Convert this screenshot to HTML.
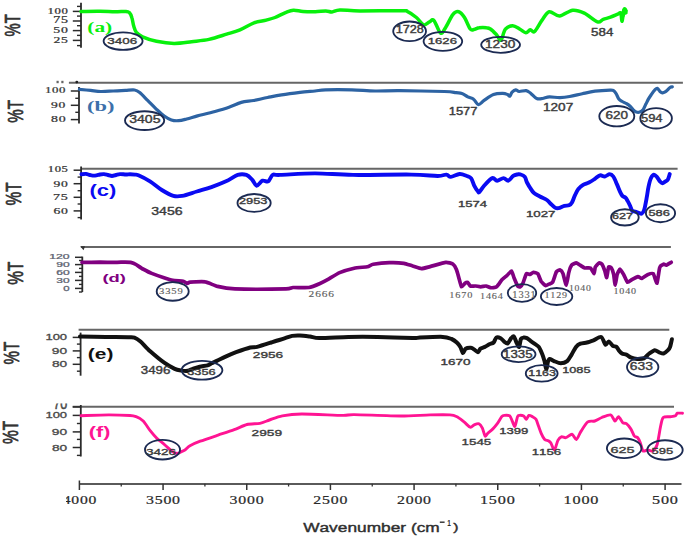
<!DOCTYPE html>
<html><head><meta charset="utf-8"><style>
html,body{margin:0;padding:0;background:#fff;}
body{width:685px;height:536px;overflow:hidden;}
svg{display:block;}
text{font-kerning:none;}
</style></head><body>
<svg width="685" height="536" viewBox="0 0 685 536">
<rect width="685" height="536" fill="#fff"/>
<text transform="translate(20.07,36.43) rotate(-90) scale(0.1485,0.2187)" font-family="'Liberation Sans', sans-serif" font-weight="normal" font-size="100.0" fill="#333" stroke="#333" stroke-width="3.269" stroke-linejoin="round">%T</text>
<line x1="81.00" y1="2.80" x2="81.00" y2="47.70" stroke="#2b2b2b" stroke-width="1.8"/>
<line x1="72.80" y1="11.40" x2="81.00" y2="11.40" stroke="#2b2b2b" stroke-width="1.5"/>
<line x1="72.80" y1="21.00" x2="81.00" y2="21.00" stroke="#2b2b2b" stroke-width="1.5"/>
<line x1="72.80" y1="30.60" x2="81.00" y2="30.60" stroke="#2b2b2b" stroke-width="1.5"/>
<line x1="72.80" y1="40.40" x2="81.00" y2="40.40" stroke="#2b2b2b" stroke-width="1.5"/>
<line x1="77.00" y1="6.40" x2="81.00" y2="6.40" stroke="#2b2b2b" stroke-width="1.4"/>
<line x1="77.00" y1="16.10" x2="81.00" y2="16.10" stroke="#2b2b2b" stroke-width="1.4"/>
<line x1="77.00" y1="25.70" x2="81.00" y2="25.70" stroke="#2b2b2b" stroke-width="1.4"/>
<line x1="77.00" y1="35.40" x2="81.00" y2="35.40" stroke="#2b2b2b" stroke-width="1.4"/>
<line x1="77.00" y1="45.60" x2="81.00" y2="45.60" stroke="#2b2b2b" stroke-width="1.4"/>
<text transform="translate(47.43,13.96) scale(0.1275,0.0889)" font-family="'Liberation Serif', serif" font-weight="normal" font-size="100.0" fill="#333" stroke="#333" stroke-width="2.772" stroke-linejoin="round" letter-spacing="5.00">100</text>
<text transform="translate(53.23,23.46) scale(0.1397,0.0933)" font-family="'Liberation Serif', serif" font-weight="normal" font-size="100.0" fill="#333" stroke="#333" stroke-width="2.575" stroke-linejoin="round" letter-spacing="5.00">75</text>
<text transform="translate(53.35,33.26) scale(0.1384,0.0919)" font-family="'Liberation Serif', serif" font-weight="normal" font-size="100.0" fill="#333" stroke="#333" stroke-width="2.606" stroke-linejoin="round" letter-spacing="5.00">50</text>
<text transform="translate(53.55,43.06) scale(0.1365,0.0923)" font-family="'Liberation Serif', serif" font-weight="normal" font-size="100.0" fill="#333" stroke="#333" stroke-width="2.623" stroke-linejoin="round" letter-spacing="5.00">25</text>
<text transform="translate(87.26,31.81) scale(0.2143,0.1544)" font-family="'Liberation Serif', serif" font-weight="bold" font-size="100.0" fill="#08f00c">(a)</text>
<path d="M81.0,11.5 C84.2,11.4 94.3,11.1 100.0,11.2 C105.7,11.2 110.7,11.8 115.0,11.8 C119.3,11.8 123.6,11.3 126.0,11.4 C128.4,11.5 128.3,11.6 129.3,12.6 C130.3,13.6 131.1,15.2 131.8,17.5 C132.6,19.8 133.0,23.8 133.8,26.3 C134.6,28.8 135.0,30.6 136.4,32.4 C137.8,34.1 139.2,35.3 142.5,36.8 C145.8,38.3 151.2,40.1 156.5,41.2 C161.8,42.3 168.2,43.3 174.0,43.4 C179.8,43.5 185.8,42.4 191.6,41.7 C197.4,41.0 203.2,40.6 209.0,39.4 C214.8,38.1 221.4,35.8 226.6,34.2 C231.8,32.6 235.4,31.7 240.0,29.8 C244.6,27.9 249.6,24.4 254.0,22.8 C258.4,21.2 262.8,21.0 266.3,20.1 C269.8,19.2 271.8,18.8 275.0,17.5 C278.2,16.2 282.4,13.8 285.5,12.6 C288.6,11.4 290.5,10.4 293.4,10.2 C296.3,10.0 299.4,11.2 303.0,11.4 C306.6,11.7 311.5,11.8 315.3,11.7 C319.1,11.6 323.0,10.9 325.8,10.9 C328.6,10.9 329.6,12.1 332.0,11.9 C334.4,11.8 335.2,10.2 339.9,10.0 C344.6,9.8 349.7,10.8 360.0,10.9 C370.3,11.0 393.9,10.7 401.8,10.8 C409.7,10.9 405.2,10.6 407.6,11.7 C410.0,12.8 413.7,15.3 416.4,17.5 C419.1,19.7 421.4,24.1 423.6,24.8 C425.8,25.5 427.8,22.6 429.5,21.9 C431.2,21.2 432.1,18.5 433.9,20.4 C435.7,22.2 438.6,31.8 440.5,33.0 C442.4,34.2 443.4,30.8 445.5,27.7 C447.6,24.6 450.6,17.3 452.8,14.6 C455.0,11.9 456.8,11.2 458.7,11.7 C460.6,12.2 462.6,14.6 464.5,17.5 C466.4,20.4 468.7,27.2 470.4,29.2 C472.1,31.1 473.2,29.4 474.7,29.2 C476.1,28.9 477.2,27.9 479.1,27.7 C481.1,27.4 484.4,27.4 486.4,27.7 C488.3,27.9 489.1,28.0 490.8,29.2 C492.5,30.4 495.0,33.2 496.7,35.0 C498.4,36.8 499.6,41.0 501.0,40.0 C502.4,39.0 503.4,31.6 505.4,29.2 C507.3,26.8 510.3,25.7 512.7,25.7 C515.1,25.7 517.8,28.0 520.0,29.2 C522.2,30.4 524.2,32.6 525.9,32.7 C527.6,32.8 528.8,30.0 530.3,29.8 C531.8,29.6 532.7,33.1 534.6,31.5 C536.5,29.9 539.5,23.7 541.9,20.4 C544.3,17.1 546.3,12.4 549.2,11.7 C552.1,11.0 555.6,16.2 559.5,16.0 C563.4,15.8 568.5,10.7 572.6,10.2 C576.7,9.7 580.2,11.2 584.3,13.1 C588.4,15.0 594.2,20.9 597.4,21.9 C600.5,22.9 601.0,20.1 603.2,19.3 C605.4,18.5 608.1,18.1 610.5,17.2 C612.9,16.3 616.1,14.9 617.8,14.2 C619.5,13.5 620.1,11.9 620.8,13.1 C621.5,14.3 621.5,21.1 621.9,21.3 C622.3,21.5 622.8,16.6 623.2,14.5 C623.6,12.4 623.9,9.4 624.4,8.8 C624.9,8.2 625.7,10.5 626.0,10.8" fill="none" stroke="#08f00c" stroke-width="3.5" stroke-linejoin="round" stroke-linecap="round"/>
<polyline points="622.5,15.5 624.5,10.0 625.5,12.5" fill="none" stroke="#08f00c" stroke-width="4.5" stroke-linejoin="round" stroke-linecap="round"/>
<ellipse cx="123.1" cy="41.1" rx="19.5" ry="8.8" fill="none" stroke="#1b2a52" stroke-width="1.85"/>
<ellipse cx="409.6" cy="31.3" rx="16.4" ry="9.8" fill="none" stroke="#1b2a52" stroke-width="1.85"/>
<ellipse cx="442.9" cy="41.3" rx="19.3" ry="9.5" fill="none" stroke="#1b2a52" stroke-width="1.85"/>
<ellipse cx="500.6" cy="44.8" rx="19.4" ry="8.0" fill="none" stroke="#1b2a52" stroke-width="1.85"/>
<text transform="translate(107.31,43.88) scale(0.1342,0.0960)" font-family="'Liberation Sans', sans-serif" font-weight="normal" font-size="100.0" fill="#3c3c3c" stroke="#3c3c3c" stroke-width="3.909" stroke-linejoin="round">3406</text>
<text transform="translate(395.76,33.38) scale(0.1266,0.1017)" font-family="'Liberation Sans', sans-serif" font-weight="normal" font-size="100.0" fill="#3c3c3c" stroke="#3c3c3c" stroke-width="3.942" stroke-linejoin="round">1728</text>
<text transform="translate(427.72,43.59) scale(0.1314,0.0890)" font-family="'Liberation Sans', sans-serif" font-weight="normal" font-size="100.0" fill="#3c3c3c" stroke="#3c3c3c" stroke-width="4.084" stroke-linejoin="round">1626</text>
<text transform="translate(484.99,47.98) scale(0.1363,0.1017)" font-family="'Liberation Sans', sans-serif" font-weight="normal" font-size="100.0" fill="#3c3c3c" stroke="#3c3c3c" stroke-width="3.782" stroke-linejoin="round">1230</text>
<text transform="translate(591.09,35.77) scale(0.1335,0.1059)" font-family="'Liberation Sans', sans-serif" font-weight="normal" font-size="100.0" fill="#3c3c3c" stroke="#3c3c3c" stroke-width="3.759" stroke-linejoin="round">584</text>
<text transform="translate(22.97,122.84) rotate(-90) scale(0.1519,0.2258)" font-family="'Liberation Sans', sans-serif" font-weight="normal" font-size="100.0" fill="#333" stroke="#333" stroke-width="3.177" stroke-linejoin="round">%T</text>
<line x1="68.90" y1="82.70" x2="682.90" y2="82.70" stroke="#666666" stroke-width="2.0"/>
<circle cx="76.8" cy="82.1" r="1.4" fill="#222"/>
<line x1="79.00" y1="87.10" x2="79.00" y2="123.50" stroke="#2b2b2b" stroke-width="1.8"/>
<line x1="70.80" y1="91.00" x2="79.00" y2="91.00" stroke="#2b2b2b" stroke-width="1.5"/>
<line x1="70.80" y1="105.30" x2="79.00" y2="105.30" stroke="#2b2b2b" stroke-width="1.5"/>
<line x1="70.80" y1="119.60" x2="79.00" y2="119.60" stroke="#2b2b2b" stroke-width="1.5"/>
<line x1="75.30" y1="98.30" x2="79.00" y2="98.30" stroke="#2b2b2b" stroke-width="1.4"/>
<line x1="75.30" y1="112.30" x2="79.00" y2="112.30" stroke="#2b2b2b" stroke-width="1.4"/>
<text transform="translate(45.02,93.47) scale(0.1282,0.0860)" font-family="'Liberation Serif', serif" font-weight="normal" font-size="100.0" fill="#333" stroke="#333" stroke-width="2.801" stroke-linejoin="round" letter-spacing="5.00">100</text>
<text transform="translate(51.11,108.17) scale(0.1358,0.0860)" font-family="'Liberation Serif', serif" font-weight="normal" font-size="100.0" fill="#333" stroke="#333" stroke-width="2.706" stroke-linejoin="round" letter-spacing="5.00">90</text>
<text transform="translate(51.02,122.47) scale(0.1386,0.0860)" font-family="'Liberation Serif', serif" font-weight="normal" font-size="100.0" fill="#333" stroke="#333" stroke-width="2.672" stroke-linejoin="round" letter-spacing="5.00">80</text>
<rect x="56.5" y="80.8" width="2.2" height="2.4" fill="#666"/>
<rect x="61.3" y="80.8" width="2.2" height="2.4" fill="#666"/>
<text transform="translate(87.11,111.41) scale(0.2248,0.1500)" font-family="'Liberation Serif', serif" font-weight="bold" font-size="100.0" fill="#3c70aa">(b)</text>
<path d="M79.4,89.4 C81.3,89.6 87.1,90.1 90.7,90.4 C94.3,90.8 97.2,91.4 100.9,91.5 C104.6,91.6 109.0,91.2 113.1,91.0 C117.2,90.8 121.8,90.6 125.4,90.4 C129.0,90.2 132.2,89.7 134.6,90.0 C137.0,90.3 137.5,90.7 139.7,92.5 C141.9,94.3 145.2,98.0 147.9,100.7 C150.6,103.4 153.3,106.2 156.0,108.8 C158.7,111.3 161.6,114.1 164.2,116.0 C166.8,117.9 169.0,119.2 171.4,120.0 C173.8,120.8 175.9,120.9 178.5,120.7 C181.1,120.5 183.5,119.8 186.7,119.0 C189.9,118.2 192.8,117.2 197.5,115.9 C202.2,114.7 209.8,113.0 215.0,111.5 C220.2,110.0 224.6,108.7 229.0,107.2 C233.4,105.7 237.2,103.5 241.3,102.4 C245.4,101.3 249.2,101.3 253.6,100.5 C258.0,99.7 262.9,98.4 267.6,97.5 C272.3,96.6 276.2,95.8 281.6,94.9 C287.0,94.0 294.4,93.0 300.0,92.3 C305.6,91.6 310.8,91.4 315.0,91.0 C319.2,90.6 319.4,90.1 325.5,89.9 C331.6,89.7 343.5,89.7 351.8,89.9 C360.1,90.1 367.2,90.9 375.2,91.0 C383.2,91.1 388.5,90.6 400.0,90.7 C411.5,90.8 435.0,91.2 444.4,91.5 C453.8,91.8 453.2,92.4 456.1,92.7 C459.0,93.0 459.9,92.7 461.9,93.4 C463.8,94.1 465.9,95.9 467.8,96.9 C469.8,97.9 471.9,97.9 473.6,99.2 C475.4,100.5 476.6,104.4 478.3,104.6 C480.1,104.8 481.6,102.1 484.1,100.4 C486.6,98.7 490.4,95.7 493.5,94.5 C496.6,93.3 500.5,93.4 502.8,93.4 C505.1,93.4 506.3,94.0 507.5,94.5 C508.7,95.0 509.0,96.6 509.8,96.2 C510.6,95.8 511.1,93.2 512.1,92.2 C513.1,91.2 514.5,90.0 515.7,89.9 C516.9,89.8 517.5,91.4 519.2,91.5 C521.0,91.6 524.3,90.3 526.2,90.6 C528.1,90.9 529.0,92.1 530.8,93.4 C532.5,94.7 534.8,97.7 536.7,98.5 C538.7,99.3 540.4,98.8 542.5,98.5 C544.6,98.2 546.6,97.1 549.5,96.9 C552.4,96.8 556.6,97.7 560.0,97.6 C563.4,97.5 565.9,97.2 569.6,96.5 C573.3,95.8 578.1,94.6 582.3,93.7 C586.5,92.8 590.4,91.8 595.0,91.2 C599.6,90.6 606.9,90.2 610.0,90.1 C613.1,90.0 612.5,90.0 613.5,90.6 C614.5,91.2 615.2,92.2 616.1,93.6 C617.0,95.0 617.8,97.6 618.8,98.9 C619.8,100.2 621.0,100.7 622.3,101.5 C623.6,102.3 625.3,102.9 626.6,103.7 C627.9,104.5 628.9,105.2 630.1,106.3 C631.3,107.4 632.6,109.3 633.6,110.3 C634.6,111.2 635.3,111.7 636.3,112.0 C637.3,112.3 638.6,112.4 639.8,112.0 C641.0,111.6 642.3,110.7 643.3,109.4 C644.3,108.1 645.0,105.8 645.9,104.1 C646.8,102.3 647.5,100.7 648.5,98.9 C649.5,97.2 651.0,95.1 652.0,93.6 C653.0,92.1 653.8,91.0 654.7,90.1 C655.6,89.2 656.4,88.2 657.3,88.4 C658.2,88.6 659.0,90.7 659.9,91.4 C660.8,92.1 661.6,92.7 662.5,92.8 C663.4,92.9 664.5,92.3 665.2,91.9 C665.9,91.5 666.1,91.3 666.9,90.6 C667.7,89.9 669.1,88.1 670.0,87.5 C670.9,86.9 671.9,87.0 672.3,86.9" fill="none" stroke="#2d63a3" stroke-width="3.2" stroke-linejoin="round" stroke-linecap="round"/>
<ellipse cx="144.6" cy="120.6" rx="19.6" ry="9.4" fill="none" stroke="#1b2a52" stroke-width="1.85"/>
<ellipse cx="616.8" cy="116.2" rx="17.5" ry="10.2" fill="none" stroke="#1b2a52" stroke-width="1.85"/>
<ellipse cx="656.1" cy="118.3" rx="15.8" ry="10.2" fill="none" stroke="#1b2a52" stroke-width="1.85"/>
<text transform="translate(129.19,123.26) scale(0.1406,0.1130)" font-family="'Liberation Sans', sans-serif" font-weight="normal" font-size="100.0" fill="#3c3c3c" stroke="#3c3c3c" stroke-width="3.549" stroke-linejoin="round">3405</text>
<text transform="translate(448.74,114.87) scale(0.1294,0.1089)" font-family="'Liberation Sans', sans-serif" font-weight="normal" font-size="100.0" fill="#3c3c3c" stroke="#3c3c3c" stroke-width="3.776" stroke-linejoin="round">1577</text>
<text transform="translate(542.99,111.07) scale(0.1361,0.1031)" font-family="'Liberation Sans', sans-serif" font-weight="normal" font-size="100.0" fill="#3c3c3c" stroke="#3c3c3c" stroke-width="3.763" stroke-linejoin="round">1207</text>
<text transform="translate(605.54,119.47) scale(0.1352,0.1031)" font-family="'Liberation Sans', sans-serif" font-weight="normal" font-size="100.0" fill="#3c3c3c" stroke="#3c3c3c" stroke-width="3.776" stroke-linejoin="round">620</text>
<text transform="translate(640.91,121.67) scale(0.1298,0.1031)" font-family="'Liberation Sans', sans-serif" font-weight="normal" font-size="100.0" fill="#3c3c3c" stroke="#3c3c3c" stroke-width="3.865" stroke-linejoin="round">594</text>
<text transform="translate(21.37,205.45) rotate(-90) scale(0.1540,0.2230)" font-family="'Liberation Sans', sans-serif" font-weight="normal" font-size="100.0" fill="#333" stroke="#333" stroke-width="3.183" stroke-linejoin="round">%T</text>
<line x1="81.10" y1="168.80" x2="677.60" y2="168.80" stroke="#666666" stroke-width="2.0"/>
<line x1="81.10" y1="166.40" x2="81.10" y2="219.60" stroke="#2b2b2b" stroke-width="1.8"/>
<line x1="73.60" y1="170.20" x2="81.10" y2="170.20" stroke="#2b2b2b" stroke-width="1.5"/>
<line x1="73.60" y1="183.70" x2="81.10" y2="183.70" stroke="#2b2b2b" stroke-width="1.5"/>
<line x1="73.60" y1="197.30" x2="81.10" y2="197.30" stroke="#2b2b2b" stroke-width="1.5"/>
<line x1="73.60" y1="210.90" x2="81.10" y2="210.90" stroke="#2b2b2b" stroke-width="1.5"/>
<line x1="77.60" y1="177.10" x2="81.10" y2="177.10" stroke="#2b2b2b" stroke-width="1.4"/>
<line x1="77.60" y1="190.70" x2="81.10" y2="190.70" stroke="#2b2b2b" stroke-width="1.4"/>
<line x1="77.60" y1="204.00" x2="81.10" y2="204.00" stroke="#2b2b2b" stroke-width="1.4"/>
<line x1="77.60" y1="217.60" x2="81.10" y2="217.60" stroke="#2b2b2b" stroke-width="1.4"/>
<text transform="translate(47.75,172.46) scale(0.1256,0.0889)" font-family="'Liberation Serif', serif" font-weight="normal" font-size="100.0" fill="#333" stroke="#333" stroke-width="2.797" stroke-linejoin="round" letter-spacing="5.00">105</text>
<text transform="translate(53.61,186.66) scale(0.1358,0.0889)" font-family="'Liberation Serif', serif" font-weight="normal" font-size="100.0" fill="#333" stroke="#333" stroke-width="2.671" stroke-linejoin="round" letter-spacing="5.00">90</text>
<text transform="translate(53.12,200.26) scale(0.1407,0.0918)" font-family="'Liberation Serif', serif" font-weight="normal" font-size="100.0" fill="#333" stroke="#333" stroke-width="2.580" stroke-linejoin="round" letter-spacing="5.00">75</text>
<text transform="translate(53.46,213.57) scale(0.1373,0.0860)" font-family="'Liberation Serif', serif" font-weight="normal" font-size="100.0" fill="#333" stroke="#333" stroke-width="2.688" stroke-linejoin="round" letter-spacing="5.00">60</text>
<text transform="translate(89.41,196.17) scale(0.2191,0.1556)" font-family="'Liberation Sans', sans-serif" font-weight="bold" font-size="100.0" fill="#0a0af2">(c)</text>
<path d="M81.5,174.3 C82.2,174.2 84.6,173.8 86.0,173.9 C87.4,174.0 88.5,174.7 90.0,175.0 C91.5,175.3 93.3,175.7 95.0,175.6 C96.7,175.5 98.5,174.8 100.0,174.5 C101.5,174.2 102.7,174.0 104.0,174.1 C105.3,174.2 106.7,174.7 108.0,175.0 C109.3,175.3 110.7,176.0 112.0,176.0 C113.3,176.0 114.7,175.3 116.0,175.0 C117.3,174.7 118.3,174.2 120.0,174.1 C121.7,174.0 124.3,174.5 126.0,174.5 C127.7,174.5 128.5,174.2 130.0,174.2 C131.5,174.2 133.6,174.4 135.0,174.6 C136.4,174.8 135.9,174.2 138.4,175.3 C140.9,176.4 146.1,178.9 150.0,181.3 C153.9,183.8 157.9,187.6 161.8,190.0 C165.7,192.4 170.0,194.9 173.4,195.9 C176.8,196.9 178.3,196.6 182.2,195.9 C186.1,195.2 191.9,193.0 196.8,191.5 C201.7,190.0 206.5,188.8 211.4,187.1 C216.3,185.4 221.6,183.3 226.0,181.3 C230.4,179.3 234.3,176.0 237.7,174.9 C241.1,173.8 244.0,174.1 246.4,174.9 C248.8,175.7 250.6,178.0 252.3,179.8 C254.0,181.6 254.9,185.5 256.6,185.7 C258.3,185.8 260.6,181.4 262.5,180.7 C264.4,180.0 266.6,182.3 268.3,181.3 C270.0,180.3 270.8,176.0 272.7,174.9 C274.6,173.8 272.9,175.2 280.0,174.9 C287.1,174.7 302.8,173.4 315.0,173.4 C327.2,173.4 336.9,174.7 353.0,174.9 C369.1,175.1 397.3,174.4 411.4,174.6 C425.5,174.8 431.9,176.0 437.7,176.0 C443.5,176.0 444.2,174.4 446.4,174.6 C448.6,174.8 448.6,177.0 450.8,176.9 C453.0,176.8 456.9,174.2 459.6,174.0 C462.3,173.8 465.0,175.3 466.9,176.0 C468.8,176.7 470.0,176.8 471.2,178.4 C472.4,180.0 473.1,183.5 474.2,185.7 C475.3,187.9 477.1,190.5 478.0,191.5 C478.9,192.5 478.4,192.9 479.5,191.9 C480.6,190.9 482.2,187.8 484.3,185.5 C486.4,183.2 490.2,178.9 492.3,178.1 C494.4,177.3 495.2,180.7 497.1,180.7 C499.0,180.7 501.6,178.1 503.5,178.1 C505.4,178.1 506.8,181.1 508.4,180.7 C510.0,180.3 511.6,177.0 513.2,175.9 C514.8,174.8 516.9,174.6 518.0,174.3 C519.1,174.0 518.9,173.9 520.0,174.3 C521.1,174.7 523.5,175.3 524.7,176.7 C525.9,178.1 526.0,180.6 527.0,182.5 C528.0,184.4 529.3,186.7 530.5,188.4 C531.7,190.2 532.4,191.7 534.0,193.0 C535.6,194.3 537.8,195.3 539.9,196.5 C542.0,197.7 545.1,198.8 546.9,200.0 C548.6,201.2 549.0,202.2 550.4,203.5 C551.8,204.8 553.6,206.8 555.0,207.6 C556.4,208.4 556.9,208.5 558.5,208.2 C560.1,207.9 562.6,206.4 564.4,205.9 C566.1,205.4 567.7,205.9 569.0,205.3 C570.3,204.7 571.0,204.1 572.0,202.4 C573.0,200.8 573.8,197.7 574.9,195.4 C576.0,193.2 577.0,190.7 578.4,188.9 C579.8,187.2 581.4,186.0 583.1,184.9 C584.9,183.8 587.0,183.5 588.9,182.5 C590.8,181.5 592.9,180.2 594.7,179.0 C596.6,177.8 598.3,175.7 600.0,175.3 C601.7,174.9 603.2,176.7 604.8,176.5 C606.4,176.3 608.3,174.1 609.7,174.1 C611.1,174.1 612.1,174.8 613.3,176.5 C614.5,178.2 615.9,181.9 617.0,184.4 C618.1,186.9 619.1,189.8 620.0,191.7 C620.9,193.6 621.5,194.9 622.4,195.9 C623.3,196.9 624.6,196.8 625.5,197.7 C626.4,198.6 627.1,200.0 627.9,201.4 C628.7,202.8 629.6,204.7 630.3,206.2 C631.0,207.7 631.3,209.7 632.1,210.6 C632.9,211.5 634.1,211.3 635.2,211.7 C636.3,212.1 637.7,212.6 638.8,212.9 C639.9,213.2 640.9,214.1 641.8,213.6 C642.7,213.1 643.4,212.5 644.2,209.8 C645.0,207.2 646.0,201.5 646.7,197.7 C647.4,193.9 647.8,190.0 648.5,186.8 C649.2,183.6 650.0,180.3 650.9,178.3 C651.8,176.3 652.9,174.9 653.9,174.7 C654.9,174.5 656.0,176.0 657.0,177.1 C658.0,178.2 659.1,180.4 660.0,181.4 C660.9,182.4 661.5,183.2 662.4,183.2 C663.3,183.2 664.6,182.0 665.5,181.4 C666.4,180.8 667.2,180.7 667.9,179.5 C668.6,178.3 669.4,175.0 669.7,174.1" fill="none" stroke="#0a0af2" stroke-width="3.9" stroke-linejoin="round" stroke-linecap="round"/>
<ellipse cx="254.1" cy="202.9" rx="16.6" ry="8.9" fill="none" stroke="#1b2a52" stroke-width="1.85"/>
<ellipse cx="624.9" cy="217.4" rx="13.8" ry="8.1" fill="none" stroke="#1b2a52" stroke-width="1.85"/>
<ellipse cx="660.5" cy="213.2" rx="14.6" ry="9.0" fill="none" stroke="#1b2a52" stroke-width="1.85"/>
<text transform="translate(151.19,214.68) scale(0.1412,0.1017)" font-family="'Liberation Sans', sans-serif" font-weight="normal" font-size="100.0" fill="#3c3c3c" stroke="#3c3c3c" stroke-width="3.706" stroke-linejoin="round">3456</text>
<text transform="translate(238.88,204.49) scale(0.1284,0.0890)" font-family="'Liberation Sans', sans-serif" font-weight="normal" font-size="100.0" fill="#3c3c3c" stroke="#3c3c3c" stroke-width="4.141" stroke-linejoin="round">2953</text>
<text transform="translate(457.92,206.59) scale(0.1314,0.0874)" font-family="'Liberation Sans', sans-serif" font-weight="normal" font-size="100.0" fill="#3c3c3c" stroke="#3c3c3c" stroke-width="4.113" stroke-linejoin="round">1574</text>
<text transform="translate(525.91,216.68) scale(0.1332,0.0932)" font-family="'Liberation Sans', sans-serif" font-weight="normal" font-size="100.0" fill="#3c3c3c" stroke="#3c3c3c" stroke-width="3.975" stroke-linejoin="round">1027</text>
<text transform="translate(611.89,219.08) scale(0.1260,0.0932)" font-family="'Liberation Sans', sans-serif" font-weight="normal" font-size="100.0" fill="#3c3c3c" stroke="#3c3c3c" stroke-width="4.105" stroke-linejoin="round">627</text>
<text transform="translate(648.41,216.09) scale(0.1284,0.0847)" font-family="'Liberation Sans', sans-serif" font-weight="normal" font-size="100.0" fill="#3c3c3c" stroke="#3c3c3c" stroke-width="4.222" stroke-linejoin="round">586</text>
<text transform="translate(23.37,284.65) rotate(-90) scale(0.1547,0.2158)" font-family="'Liberation Sans', sans-serif" font-weight="normal" font-size="100.0" fill="#333" stroke="#333" stroke-width="3.239" stroke-linejoin="round">%T</text>
<line x1="80.80" y1="246.90" x2="670.90" y2="246.90" stroke="#666666" stroke-width="2.0"/>
<path d="M80.3,246.3 L85,246.3 L83.5,250.2 Z" fill="#333"/>
<line x1="82.30" y1="256.60" x2="82.30" y2="292.00" stroke="#2b2b2b" stroke-width="1.8"/>
<line x1="75.00" y1="257.30" x2="82.30" y2="257.30" stroke="#2b2b2b" stroke-width="1.5"/>
<line x1="75.00" y1="264.60" x2="82.30" y2="264.60" stroke="#2b2b2b" stroke-width="1.5"/>
<line x1="75.00" y1="272.40" x2="82.30" y2="272.40" stroke="#2b2b2b" stroke-width="1.5"/>
<line x1="75.00" y1="280.40" x2="82.30" y2="280.40" stroke="#2b2b2b" stroke-width="1.5"/>
<line x1="75.00" y1="288.40" x2="82.30" y2="288.40" stroke="#2b2b2b" stroke-width="1.5"/>
<line x1="79.00" y1="260.50" x2="82.30" y2="260.50" stroke="#2b2b2b" stroke-width="1.4"/>
<line x1="79.00" y1="268.40" x2="82.30" y2="268.40" stroke="#2b2b2b" stroke-width="1.4"/>
<line x1="79.00" y1="276.40" x2="82.30" y2="276.40" stroke="#2b2b2b" stroke-width="1.4"/>
<line x1="79.00" y1="284.40" x2="82.30" y2="284.40" stroke="#2b2b2b" stroke-width="1.4"/>
<line x1="79.00" y1="292.00" x2="82.30" y2="292.00" stroke="#2b2b2b" stroke-width="1.4"/>
<text transform="translate(49.25,258.56) scale(0.1220,0.0657)" font-family="'Liberation Sans', sans-serif" font-weight="normal" font-size="100.0" fill="#5c6270" stroke="#5c6270" stroke-width="3.730" stroke-linejoin="round">120</text>
<text transform="translate(56.21,266.76) scale(0.1203,0.0657)" font-family="'Liberation Sans', sans-serif" font-weight="normal" font-size="100.0" fill="#5c6270" stroke="#5c6270" stroke-width="3.763" stroke-linejoin="round">90</text>
<text transform="translate(56.16,274.76) scale(0.1208,0.0657)" font-family="'Liberation Sans', sans-serif" font-weight="normal" font-size="100.0" fill="#5c6270" stroke="#5c6270" stroke-width="3.754" stroke-linejoin="round">60</text>
<text transform="translate(56.32,282.76) scale(0.1193,0.0657)" font-family="'Liberation Sans', sans-serif" font-weight="normal" font-size="100.0" fill="#5c6270" stroke="#5c6270" stroke-width="3.784" stroke-linejoin="round">30</text>
<text transform="translate(63.23,290.76) scale(0.1140,0.0657)" font-family="'Liberation Sans', sans-serif" font-weight="normal" font-size="100.0" fill="#5c6270" stroke="#5c6270" stroke-width="3.896" stroke-linejoin="round">0</text>
<text transform="translate(102.38,281.67) scale(0.1843,0.1073)" font-family="'Liberation Sans', sans-serif" font-weight="bold" font-size="100.0" fill="#800080">(d)</text>
<path d="M82.0,262.4 C83.5,262.4 97.2,262.2 100.0,262.2 C102.8,262.2 112.9,262.4 115.0,262.4 C117.1,262.4 123.7,262.1 125.0,262.1 C126.3,262.1 129.7,262.2 130.6,262.4 C131.5,262.6 135.0,263.9 136.0,264.5 C137.0,265.1 141.6,268.3 142.9,269.0 C144.2,269.7 149.9,272.7 151.7,273.4 C153.5,274.1 162.2,277.2 164.0,277.8 C165.8,278.4 171.1,280.1 172.7,280.4 C174.3,280.7 182.0,281.1 183.2,281.3 C184.4,281.6 186.2,283.3 186.8,283.4 C187.4,283.5 188.8,282.3 190.3,282.2 C191.8,282.1 203.0,281.5 205.3,281.9 C207.6,282.2 215.0,285.8 217.5,286.4 C220.0,287.0 229.3,288.7 235.0,288.9 C240.7,289.1 281.2,289.0 286.0,288.9 C290.8,288.8 291.1,287.6 293.0,287.5 C294.9,287.4 306.6,287.8 308.8,287.5 C311.1,287.2 318.4,284.2 320.0,283.5 C321.6,282.8 326.4,280.3 328.0,279.4 C329.6,278.5 337.4,273.5 339.6,272.6 C341.8,271.7 351.9,268.7 354.2,268.2 C356.5,267.7 365.8,267.0 367.4,266.7 C369.0,266.4 371.4,264.6 373.2,264.3 C375.0,264.0 386.7,262.7 389.3,262.6 C391.9,262.5 402.0,263.0 403.9,263.3 C405.8,263.6 411.1,265.6 412.6,266.0 C414.1,266.4 419.9,268.6 421.4,268.6 C422.9,268.7 428.1,267.1 430.1,266.6 C432.1,266.1 443.9,262.5 445.8,262.3 C447.7,262.1 451.9,263.4 452.8,264.0 C453.7,264.6 455.8,268.1 456.3,269.3 C456.8,270.5 458.5,276.5 458.9,278.0 C459.3,279.5 461.0,286.4 461.5,286.8 C462.0,287.2 464.5,283.7 465.0,283.3 C465.5,282.9 467.3,282.2 467.7,282.4 C468.1,282.6 469.6,285.7 470.3,286.0 C471.0,286.3 474.7,285.9 475.6,286.0 C476.5,286.1 479.9,286.8 480.8,286.8 C481.7,286.8 485.3,285.9 486.1,286.0 C486.9,286.1 489.6,287.6 490.5,287.7 C491.4,287.8 495.7,287.5 496.6,286.8 C497.6,286.1 501.0,280.8 501.9,279.8 C502.8,278.9 506.3,276.1 507.1,275.4 C507.9,274.7 510.9,270.8 511.5,271.0 C512.1,271.2 513.6,276.8 514.1,278.0 C514.6,279.2 517.1,285.3 517.6,286.0 C518.1,286.7 519.8,287.0 520.2,286.8 C520.6,286.6 522.4,284.4 522.9,283.3 C523.4,282.2 525.8,274.4 526.4,273.7 C527.0,273.0 529.3,274.6 529.9,274.5 C530.5,274.4 532.7,272.5 533.4,272.4 C534.1,272.3 537.1,272.9 537.8,273.7 C538.4,274.5 540.6,280.5 541.2,281.5 C541.9,282.5 545.0,285.4 545.6,285.6 C546.2,285.8 548.2,284.5 548.8,284.2 C549.4,283.9 552.0,283.3 552.6,282.3 C553.2,281.3 555.8,272.8 556.4,271.8 C557.0,270.8 559.7,269.7 560.2,269.9 C560.8,270.1 562.5,272.4 563.0,273.7 C563.5,275.0 565.8,285.2 566.3,285.1 C566.8,285.0 568.3,274.5 568.7,272.8 C569.1,271.1 571.0,266.0 571.6,265.2 C572.2,264.4 575.6,262.9 576.3,262.9 C577.0,262.9 579.4,264.8 580.1,265.2 C580.8,265.6 583.9,267.8 584.8,268.0 C585.7,268.2 589.7,267.5 590.5,268.0 C591.3,268.5 593.6,273.8 594.0,273.7 C594.4,273.6 594.9,268.0 595.3,267.1 C595.7,266.2 598.6,263.1 599.1,262.9 C599.6,262.7 601.4,263.5 601.9,264.2 C602.4,264.9 604.4,269.8 604.8,270.9 C605.2,272.0 606.4,277.8 606.7,277.5 C607.0,277.2 608.2,267.9 608.6,267.1 C609.0,266.3 611.0,267.4 611.4,268.0 C611.8,268.6 613.4,273.3 613.7,274.7 C614.0,276.1 614.9,285.1 615.2,285.1 C615.5,285.1 616.7,276.0 617.1,274.7 C617.5,273.4 619.5,269.0 620.0,269.0 C620.5,269.0 623.1,273.6 623.7,274.7 C624.3,275.8 626.8,281.9 627.5,282.3 C628.2,282.7 631.4,279.9 632.3,279.4 C633.2,278.9 637.2,276.7 638.0,276.6 C638.8,276.5 641.0,278.7 641.8,278.5 C642.6,278.3 646.5,275.1 647.5,274.7 C648.5,274.3 652.4,273.0 653.2,273.7 C654.0,274.4 656.5,283.8 657.0,283.2 C657.5,282.6 659.2,268.7 659.8,267.1 C660.3,265.5 663.1,264.4 663.6,264.2 C664.1,264.0 665.8,265.4 666.4,265.2 C667.0,265.0 670.8,262.5 671.2,262.3" fill="none" stroke="#800080" stroke-width="3.7" stroke-linejoin="round" stroke-linecap="round"/>
<ellipse cx="172.7" cy="291.4" rx="16.0" ry="9.3" fill="none" stroke="#1b2a52" stroke-width="1.85"/>
<ellipse cx="522.0" cy="293.0" rx="14.2" ry="8.9" fill="none" stroke="#1b2a52" stroke-width="1.85"/>
<ellipse cx="556.6" cy="296.5" rx="15.7" ry="8.5" fill="none" stroke="#1b2a52" stroke-width="1.85"/>
<text transform="translate(159.07,294.34) scale(0.1058,0.0900)" font-family="'Liberation Serif', serif" font-weight="normal" font-size="100.0" fill="#5e5e5e" stroke="#5e5e5e" stroke-width="1.532" stroke-linejoin="round" letter-spacing="8.00">3359</text>
<text transform="translate(308.57,297.44) scale(0.1138,0.0915)" font-family="'Liberation Serif', serif" font-weight="normal" font-size="100.0" fill="#5e5e5e" stroke="#5e5e5e" stroke-width="1.461" stroke-linejoin="round" letter-spacing="8.00">2666</text>
<text transform="translate(449.27,298.05) scale(0.1029,0.0748)" font-family="'Liberation Serif', serif" font-weight="normal" font-size="100.0" fill="#5e5e5e" stroke="#5e5e5e" stroke-width="1.688" stroke-linejoin="round" letter-spacing="8.00">1670</text>
<text transform="translate(479.98,298.84) scale(0.1018,0.0871)" font-family="'Liberation Serif', serif" font-weight="normal" font-size="100.0" fill="#5e5e5e" stroke="#5e5e5e" stroke-width="1.588" stroke-linejoin="round" letter-spacing="8.00">1464</text>
<text transform="translate(512.36,297.53) scale(0.1040,0.0945)" font-family="'Liberation Serif', serif" font-weight="normal" font-size="100.0" fill="#5e5e5e" stroke="#5e5e5e" stroke-width="1.512" stroke-linejoin="round" letter-spacing="8.00">1331</text>
<text transform="translate(544.49,298.44) scale(0.1011,0.0856)" font-family="'Liberation Serif', serif" font-weight="normal" font-size="100.0" fill="#5e5e5e" stroke="#5e5e5e" stroke-width="1.607" stroke-linejoin="round" letter-spacing="8.00">1129</text>
<text transform="translate(568.92,291.25) scale(0.0977,0.0763)" font-family="'Liberation Serif', serif" font-weight="normal" font-size="100.0" fill="#5e5e5e" stroke="#5e5e5e" stroke-width="1.724" stroke-linejoin="round" letter-spacing="8.00">1040</text>
<text transform="translate(613.49,293.85) scale(0.1005,0.0734)" font-family="'Liberation Serif', serif" font-weight="normal" font-size="100.0" fill="#5e5e5e" stroke="#5e5e5e" stroke-width="1.725" stroke-linejoin="round" letter-spacing="8.00">1040</text>
<text transform="translate(18.57,364.54) rotate(-90) scale(0.1519,0.2230)" font-family="'Liberation Sans', sans-serif" font-weight="normal" font-size="100.0" fill="#333" stroke="#333" stroke-width="3.201" stroke-linejoin="round">%T</text>
<line x1="78.60" y1="329.70" x2="669.30" y2="329.70" stroke="#666666" stroke-width="2.0"/>
<line x1="80.60" y1="332.60" x2="80.60" y2="375.70" stroke="#2b2b2b" stroke-width="1.8"/>
<line x1="72.70" y1="337.40" x2="80.60" y2="337.40" stroke="#2b2b2b" stroke-width="1.5"/>
<line x1="72.70" y1="350.90" x2="80.60" y2="350.90" stroke="#2b2b2b" stroke-width="1.5"/>
<line x1="72.70" y1="364.30" x2="80.60" y2="364.30" stroke="#2b2b2b" stroke-width="1.5"/>
<line x1="76.90" y1="344.10" x2="80.60" y2="344.10" stroke="#2b2b2b" stroke-width="1.4"/>
<line x1="76.90" y1="357.60" x2="80.60" y2="357.60" stroke="#2b2b2b" stroke-width="1.4"/>
<line x1="76.90" y1="371.20" x2="80.60" y2="371.20" stroke="#2b2b2b" stroke-width="1.4"/>
<text transform="translate(45.41,340.22) scale(0.1301,0.0847)" font-family="'Liberation Sans', sans-serif" font-weight="normal" font-size="100.0" fill="#4a4a4a" stroke="#4a4a4a" stroke-width="3.724" stroke-linejoin="round">100</text>
<text transform="translate(51.86,353.62) scale(0.1374,0.0819)" font-family="'Liberation Sans', sans-serif" font-weight="normal" font-size="100.0" fill="#4a4a4a" stroke="#4a4a4a" stroke-width="3.648" stroke-linejoin="round">90</text>
<text transform="translate(51.90,367.02) scale(0.1369,0.0819)" font-family="'Liberation Sans', sans-serif" font-weight="normal" font-size="100.0" fill="#4a4a4a" stroke="#4a4a4a" stroke-width="3.656" stroke-linejoin="round">80</text>
<text transform="translate(87.86,359.35) scale(0.2093,0.1470)" font-family="'Liberation Sans', sans-serif" font-weight="bold" font-size="100.0" fill="#111111">(e)</text>
<path d="M80.0,336.4 C83.4,336.5 99.3,336.8 105.7,336.9 C112.1,337.0 124.4,337.1 128.2,337.2 C132.0,337.3 132.8,337.0 134.4,337.6 C136.0,338.2 138.4,339.7 140.5,341.5 C142.6,343.3 147.0,348.5 150.2,351.3 C153.4,354.1 160.9,360.4 164.2,362.7 C167.5,365.0 172.4,367.8 174.7,368.9 C177.0,370.0 180.0,370.3 181.8,370.6 C183.6,370.9 186.4,371.1 187.9,370.8 C189.4,370.5 191.6,369.2 193.2,368.7 C194.8,368.2 197.9,367.3 199.8,366.8 C201.7,366.3 206.0,365.8 207.6,365.3 C209.2,364.8 210.4,363.9 211.6,363.3 C212.8,362.7 214.9,361.8 216.8,360.9 C218.7,360.0 223.0,357.8 225.6,356.6 C228.2,355.4 232.8,353.4 236.1,352.2 C239.4,351.0 247.4,348.2 250.2,347.5 C253.0,346.8 254.3,347.6 257.1,346.9 C259.9,346.2 267.5,343.7 271.2,342.5 C274.9,341.3 282.3,339.1 285.1,338.2 C287.9,337.3 290.2,336.3 292.2,335.9 C294.2,335.5 297.6,335.4 300.0,335.5 C302.4,335.6 307.4,336.2 310.0,336.5 C312.6,336.8 314.1,338.0 319.2,338.1 C324.3,338.2 340.6,337.1 348.4,336.9 C356.2,336.7 369.0,336.7 377.6,336.9 C386.2,337.1 406.9,338.0 412.6,338.1 C418.3,338.2 416.0,337.8 420.0,337.6 C424.0,337.4 438.6,336.7 442.8,336.9 C447.0,337.1 449.7,338.3 451.6,339.0 C453.5,339.7 455.6,341.4 456.8,342.5 C458.0,343.6 459.6,345.5 460.4,346.9 C461.2,348.3 462.3,352.9 463.0,353.1 C463.7,353.3 464.5,349.4 465.6,348.7 C466.7,348.0 469.7,347.7 470.9,347.8 C472.1,347.9 473.5,349.0 474.4,349.6 C475.3,350.2 477.1,352.3 477.9,352.2 C478.7,352.1 479.6,349.4 480.5,348.7 C481.4,348.0 483.7,347.5 484.9,346.9 C486.1,346.3 488.1,344.9 489.3,344.3 C490.5,343.7 492.7,343.4 493.6,342.5 C494.5,341.6 495.4,338.2 496.3,337.6 C497.2,337.0 499.6,337.7 500.7,338.2 C501.8,338.7 503.3,340.9 504.2,341.6 C505.1,342.3 506.8,343.9 507.7,343.4 C508.6,342.9 510.4,339.1 511.2,338.2 C512.0,337.3 513.2,335.8 513.9,336.4 C514.6,337.0 515.8,341.1 516.5,342.5 C517.2,343.9 518.5,347.4 519.1,346.9 C519.7,346.4 520.3,340.2 520.9,339.0 C521.5,337.8 522.7,337.7 523.5,337.6 C524.3,337.5 526.1,337.8 527.0,338.2 C527.9,338.6 529.5,340.1 530.5,340.8 C531.5,341.5 533.3,342.8 534.4,343.6 C535.5,344.4 537.8,345.6 538.8,346.9 C539.8,348.2 541.2,351.6 542.0,353.5 C542.8,355.4 543.9,358.9 544.5,361.0 C545.1,363.1 545.8,369.4 546.3,369.5 C546.8,369.6 547.5,362.9 548.0,361.5 C548.5,360.1 548.9,359.0 549.7,358.9 C550.5,358.8 552.6,360.5 554.1,361.1 C555.6,361.7 559.0,363.3 560.7,363.3 C562.4,363.3 565.7,362.3 567.2,361.1 C568.7,359.9 570.4,356.5 571.6,354.6 C572.8,352.7 574.8,348.4 576.0,346.9 C577.2,345.4 578.9,344.2 580.4,343.6 C581.9,343.0 585.2,342.9 586.9,342.5 C588.6,342.1 591.6,341.0 593.5,340.3 C595.4,339.6 599.6,336.4 601.2,337.0 C602.8,337.6 604.5,344.1 605.5,344.7 C606.5,345.3 607.8,341.3 608.8,341.4 C609.8,341.5 611.8,345.1 612.8,345.8 C613.8,346.5 615.7,346.3 616.5,346.9 C617.3,347.5 618.0,349.3 618.7,350.2 C619.4,351.1 621.0,352.9 622.0,353.5 C623.0,354.1 625.1,354.1 626.3,354.6 C627.5,355.1 629.2,356.8 630.7,357.4 C632.2,358.0 635.5,358.8 637.3,358.9 C639.1,359.0 642.3,359.0 643.9,358.3 C645.5,357.6 647.8,354.6 649.3,353.5 C650.8,352.4 653.5,350.3 654.8,350.2 C656.1,350.1 658.0,352.0 659.2,352.4 C660.4,352.8 662.4,353.8 663.6,353.5 C664.8,353.2 667.1,351.1 668.0,350.2 C668.9,349.3 669.6,348.4 670.1,346.9 C670.6,345.4 671.7,340.2 671.9,339.2" fill="none" stroke="#111111" stroke-width="4.0" stroke-linejoin="round" stroke-linecap="round"/>
<ellipse cx="202.0" cy="370.3" rx="20.4" ry="9.4" fill="none" stroke="#1b2a52" stroke-width="1.85"/>
<ellipse cx="518.6" cy="354.2" rx="16.9" ry="7.9" fill="none" stroke="#1b2a52" stroke-width="1.85"/>
<ellipse cx="541.7" cy="373.4" rx="15.9" ry="8.2" fill="none" stroke="#1b2a52" stroke-width="1.85"/>
<ellipse cx="642.7" cy="367.1" rx="15.7" ry="9.7" fill="none" stroke="#1b2a52" stroke-width="1.85"/>
<text transform="translate(140.72,373.76) scale(0.1333,0.1130)" font-family="'Liberation Sans', sans-serif" font-weight="normal" font-size="100.0" fill="#3c3c3c" stroke="#3c3c3c" stroke-width="3.655" stroke-linejoin="round">3496</text>
<text transform="translate(187.24,374.69) scale(0.1276,0.0876)" font-family="'Liberation Sans', sans-serif" font-weight="normal" font-size="100.0" fill="#3c3c3c" stroke="#3c3c3c" stroke-width="4.182" stroke-linejoin="round">3356</text>
<text transform="translate(252.84,357.58) scale(0.1364,0.0989)" font-family="'Liberation Sans', sans-serif" font-weight="normal" font-size="100.0" fill="#3c3c3c" stroke="#3c3c3c" stroke-width="3.826" stroke-linejoin="round">2956</text>
<text transform="translate(440.39,364.78) scale(0.1353,0.0975)" font-family="'Liberation Sans', sans-serif" font-weight="normal" font-size="100.0" fill="#3c3c3c" stroke="#3c3c3c" stroke-width="3.866" stroke-linejoin="round">1670</text>
<text transform="translate(503.11,358.08) scale(0.1327,0.1017)" font-family="'Liberation Sans', sans-serif" font-weight="normal" font-size="100.0" fill="#3c3c3c" stroke="#3c3c3c" stroke-width="3.840" stroke-linejoin="round">1335</text>
<text transform="translate(528.28,376.08) scale(0.1243,0.0946)" font-family="'Liberation Sans', sans-serif" font-weight="normal" font-size="100.0" fill="#3c3c3c" stroke="#3c3c3c" stroke-width="4.112" stroke-linejoin="round">1163</text>
<text transform="translate(562.15,373.29) scale(0.1275,0.0847)" font-family="'Liberation Sans', sans-serif" font-weight="normal" font-size="100.0" fill="#3c3c3c" stroke="#3c3c3c" stroke-width="4.241" stroke-linejoin="round">1085</text>
<text transform="translate(629.82,369.68) scale(0.1388,0.1003)" font-family="'Liberation Sans', sans-serif" font-weight="normal" font-size="100.0" fill="#3c3c3c" stroke="#3c3c3c" stroke-width="3.764" stroke-linejoin="round">633</text>
<text transform="translate(18.47,444.05) rotate(-90) scale(0.1554,0.2158)" font-family="'Liberation Sans', sans-serif" font-weight="normal" font-size="100.0" fill="#333" stroke="#333" stroke-width="3.233" stroke-linejoin="round">%T</text>
<line x1="72.70" y1="406.80" x2="674.00" y2="406.80" stroke="#666666" stroke-width="2.0"/>
<line x1="80.80" y1="405.00" x2="80.80" y2="456.50" stroke="#2b2b2b" stroke-width="1.8"/>
<line x1="72.70" y1="406.90" x2="80.80" y2="406.90" stroke="#2b2b2b" stroke-width="1.5"/>
<line x1="72.70" y1="415.40" x2="80.80" y2="415.40" stroke="#2b2b2b" stroke-width="1.5"/>
<line x1="72.70" y1="431.90" x2="80.80" y2="431.90" stroke="#2b2b2b" stroke-width="1.5"/>
<line x1="72.70" y1="447.50" x2="80.80" y2="447.50" stroke="#2b2b2b" stroke-width="1.5"/>
<line x1="76.90" y1="423.50" x2="80.80" y2="423.50" stroke="#2b2b2b" stroke-width="1.4"/>
<line x1="76.90" y1="439.40" x2="80.80" y2="439.40" stroke="#2b2b2b" stroke-width="1.4"/>
<line x1="76.90" y1="455.40" x2="80.80" y2="455.40" stroke="#2b2b2b" stroke-width="1.4"/>
<clipPath id="c70"><rect x="40" y="403.6" width="30" height="7"/></clipPath>
<g clip-path="url(#c70)"><text transform="translate(53.21,409.11) scale(0.1252,0.1483)" font-family="'Liberation Sans', sans-serif" font-weight="normal" font-size="100.0" fill="#4a4a4a" stroke="#4a4a4a" stroke-width="3.656" stroke-linejoin="round">70</text></g>
<text transform="translate(45.41,418.22) scale(0.1301,0.0847)" font-family="'Liberation Sans', sans-serif" font-weight="normal" font-size="100.0" fill="#4a4a4a" stroke="#4a4a4a" stroke-width="3.724" stroke-linejoin="round">100</text>
<text transform="translate(51.86,434.62) scale(0.1374,0.0847)" font-family="'Liberation Sans', sans-serif" font-weight="normal" font-size="100.0" fill="#4a4a4a" stroke="#4a4a4a" stroke-width="3.602" stroke-linejoin="round">90</text>
<text transform="translate(51.90,450.62) scale(0.1369,0.0847)" font-family="'Liberation Sans', sans-serif" font-weight="normal" font-size="100.0" fill="#4a4a4a" stroke="#4a4a4a" stroke-width="3.609" stroke-linejoin="round">80</text>
<text transform="translate(88.83,437.14) scale(0.2157,0.1427)" font-family="'Liberation Sans', sans-serif" font-weight="bold" font-size="100.0" fill="#ff1493">(f)</text>
<path d="M81.0,415.7 C84.7,415.6 102.4,414.9 108.9,414.9 C115.4,414.9 126.4,415.3 130.0,415.5 C133.6,415.7 134.3,416.0 136.1,416.7 C137.9,417.4 141.3,419.1 143.2,421.0 C145.1,422.9 148.4,428.4 150.2,430.7 C152.0,433.0 155.2,436.7 156.8,438.3 C158.4,439.9 160.5,441.3 161.9,442.4 C163.3,443.5 165.7,445.7 167.0,446.8 C168.3,447.9 170.3,450.0 171.4,450.8 C172.5,451.6 174.1,452.7 175.0,453.0 C175.9,453.3 177.2,453.4 178.0,453.3 C178.8,453.2 179.9,452.4 180.9,451.9 C181.9,451.4 184.1,450.5 185.3,449.7 C186.5,448.9 188.0,446.8 190.0,445.7 C192.0,444.6 196.5,442.6 200.2,441.2 C203.9,439.8 213.6,436.6 218.1,435.1 C222.6,433.6 230.3,431.1 234.2,429.7 C238.1,428.3 243.6,425.4 247.0,424.5 C250.4,423.6 256.9,423.9 259.9,423.3 C262.9,422.7 266.5,421.0 269.5,420.0 C272.5,419.0 278.0,416.7 282.3,415.9 C286.6,415.1 293.7,414.1 301.7,414.0 C309.7,413.9 335.6,415.3 342.6,415.4 C349.6,415.5 346.4,414.5 354.2,414.6 C362.0,414.7 390.9,416.0 401.0,416.0 C411.1,416.0 423.6,415.0 430.1,414.9 C436.6,414.8 446.4,414.7 450.0,414.9 C453.6,415.1 455.1,415.8 457.0,416.7 C458.9,417.6 462.2,420.5 464.0,421.9 C465.8,423.3 468.8,426.8 470.2,427.2 C471.6,427.6 473.4,425.1 474.6,424.6 C475.8,424.1 477.9,423.2 478.9,423.7 C479.9,424.2 481.6,426.5 482.4,428.1 C483.2,429.7 484.3,435.3 485.0,436.0 C485.7,436.7 486.6,434.2 487.7,433.3 C488.8,432.4 491.6,430.2 492.9,428.9 C494.2,427.6 496.1,425.3 497.3,423.7 C498.5,422.1 500.8,417.8 501.7,416.7 C502.6,415.6 503.2,415.5 504.3,415.4 C505.4,415.3 508.5,415.1 509.6,415.8 C510.7,416.5 511.5,419.6 512.2,421.0 C512.9,422.4 514.2,426.9 514.9,426.3 C515.6,425.7 516.9,418.2 517.5,416.7 C518.1,415.2 518.5,415.5 519.3,415.4 C520.1,415.3 522.8,415.6 523.7,416.1 C524.6,416.6 525.6,419.4 526.3,419.3 C527.0,419.2 528.1,415.7 528.9,415.4 C529.7,415.1 531.6,416.2 532.5,416.7 C533.4,417.2 535.2,418.0 536.0,419.3 C536.8,420.6 537.9,424.4 538.6,426.3 C539.3,428.2 540.4,431.5 541.2,433.3 C542.0,435.1 543.8,438.5 544.7,439.5 C545.6,440.5 547.4,440.2 548.2,440.7 C549.0,441.2 550.2,441.9 550.9,443.0 C551.6,444.1 552.9,448.4 553.5,449.1 C554.1,449.8 554.7,449.4 555.3,448.2 C555.9,447.0 557.1,441.9 557.9,440.4 C558.7,438.9 560.3,437.2 561.4,436.8 C562.5,436.4 564.4,438.0 565.8,437.7 C567.2,437.4 570.6,434.0 572.0,434.2 C573.4,434.4 575.2,439.8 576.4,439.5 C577.6,439.2 579.3,433.9 580.8,431.6 C582.3,429.3 585.9,423.3 587.8,421.9 C589.7,420.5 592.9,421.6 594.8,421.0 C596.7,420.4 599.7,418.3 601.8,417.5 C603.9,416.7 608.8,414.4 610.6,414.9 C612.4,415.4 613.9,420.8 615.0,421.0 C616.1,421.2 617.4,416.5 618.5,416.7 C619.6,416.9 621.8,421.9 622.9,422.8 C624.0,423.7 625.3,422.9 626.4,423.7 C627.5,424.5 629.7,427.3 630.8,428.9 C631.9,430.5 633.4,434.8 634.3,436.0 C635.2,437.2 637.0,436.8 637.8,437.7 C638.6,438.6 639.7,441.2 640.4,443.0 C641.1,444.8 642.1,450.0 643.0,450.9 C643.9,451.8 646.1,450.0 647.4,450.0 C648.7,450.0 651.4,451.6 652.7,450.9 C654.0,450.2 656.0,448.0 657.1,444.7 C658.2,441.4 659.8,429.9 660.6,426.3 C661.4,422.7 661.9,418.8 663.2,417.5 C664.5,416.2 668.7,416.9 670.3,416.7 C671.9,416.5 674.6,416.3 675.5,415.8 C676.4,415.3 676.4,413.5 677.3,413.2 C678.2,412.9 681.8,413.2 682.5,413.2" fill="none" stroke="#ff1493" stroke-width="2.9" stroke-linejoin="round" stroke-linecap="round"/>
<ellipse cx="162.5" cy="449.7" rx="17.5" ry="9.8" fill="none" stroke="#1b2a52" stroke-width="1.85"/>
<ellipse cx="624.2" cy="448.3" rx="17.3" ry="9.8" fill="none" stroke="#1b2a52" stroke-width="1.85"/>
<ellipse cx="665.0" cy="450.0" rx="17.7" ry="9.8" fill="none" stroke="#1b2a52" stroke-width="1.85"/>
<text transform="translate(146.11,455.18) scale(0.1351,0.0975)" font-family="'Liberation Sans', sans-serif" font-weight="normal" font-size="100.0" fill="#3c3c3c" stroke="#3c3c3c" stroke-width="3.870" stroke-linejoin="round">3426</text>
<text transform="translate(251.54,435.98) scale(0.1371,0.0960)" font-family="'Liberation Sans', sans-serif" font-weight="normal" font-size="100.0" fill="#3c3c3c" stroke="#3c3c3c" stroke-width="3.861" stroke-linejoin="round">2959</text>
<text transform="translate(461.50,444.58) scale(0.1341,0.0932)" font-family="'Liberation Sans', sans-serif" font-weight="normal" font-size="100.0" fill="#3c3c3c" stroke="#3c3c3c" stroke-width="3.960" stroke-linejoin="round">1545</text>
<text transform="translate(499.23,434.19) scale(0.1311,0.0876)" font-family="'Liberation Sans', sans-serif" font-weight="normal" font-size="100.0" fill="#3c3c3c" stroke="#3c3c3c" stroke-width="4.115" stroke-linejoin="round">1399</text>
<text transform="translate(531.71,454.69) scale(0.1328,0.0847)" font-family="'Liberation Sans', sans-serif" font-weight="normal" font-size="100.0" fill="#3c3c3c" stroke="#3c3c3c" stroke-width="4.137" stroke-linejoin="round">1156</text>
<text transform="translate(610.49,452.78) scale(0.1450,0.0975)" font-family="'Liberation Sans', sans-serif" font-weight="normal" font-size="100.0" fill="#3c3c3c" stroke="#3c3c3c" stroke-width="3.712" stroke-linejoin="round">625</text>
<text transform="translate(651.50,454.18) scale(0.1302,0.0932)" font-family="'Liberation Sans', sans-serif" font-weight="normal" font-size="100.0" fill="#3c3c3c" stroke="#3c3c3c" stroke-width="4.029" stroke-linejoin="round">595</text>
<line x1="79.40" y1="484.00" x2="681.50" y2="484.00" stroke="#5a5a5a" stroke-width="2.0"/>
<line x1="79.40" y1="480.50" x2="79.40" y2="490.00" stroke="#333" stroke-width="1.5"/>
<line x1="121.24" y1="483.70" x2="121.24" y2="486.50" stroke="#333" stroke-width="1.3"/>
<line x1="163.07" y1="483.70" x2="163.07" y2="490.00" stroke="#333" stroke-width="1.5"/>
<line x1="204.91" y1="483.70" x2="204.91" y2="486.50" stroke="#333" stroke-width="1.3"/>
<line x1="246.74" y1="483.70" x2="246.74" y2="490.00" stroke="#333" stroke-width="1.5"/>
<line x1="288.57" y1="483.70" x2="288.57" y2="486.50" stroke="#333" stroke-width="1.3"/>
<line x1="330.41" y1="483.70" x2="330.41" y2="490.00" stroke="#333" stroke-width="1.5"/>
<line x1="372.24" y1="483.70" x2="372.24" y2="486.50" stroke="#333" stroke-width="1.3"/>
<line x1="414.08" y1="483.70" x2="414.08" y2="490.00" stroke="#333" stroke-width="1.5"/>
<line x1="455.92" y1="483.70" x2="455.92" y2="486.50" stroke="#333" stroke-width="1.3"/>
<line x1="497.75" y1="483.70" x2="497.75" y2="490.00" stroke="#333" stroke-width="1.5"/>
<line x1="539.59" y1="483.70" x2="539.59" y2="486.50" stroke="#333" stroke-width="1.3"/>
<line x1="581.42" y1="483.70" x2="581.42" y2="490.00" stroke="#333" stroke-width="1.5"/>
<line x1="623.25" y1="483.70" x2="623.25" y2="486.50" stroke="#333" stroke-width="1.3"/>
<line x1="665.09" y1="483.70" x2="665.09" y2="490.00" stroke="#333" stroke-width="1.5"/>
<clipPath id="c4"><rect x="66" y="480" width="40" height="30"/></clipPath>
<g clip-path="url(#c4)"><text transform="translate(62.72,503.85) scale(0.1565,0.1311)" font-family="'Liberation Serif', serif" font-weight="normal" font-size="100.0" fill="#2a2a2a" stroke="#2a2a2a" stroke-width="1.738" stroke-linejoin="round" letter-spacing="5.00">4000</text></g>
<text transform="translate(145.94,503.85) scale(0.1587,0.1311)" font-family="'Liberation Serif', serif" font-weight="normal" font-size="100.0" fill="#2a2a2a" stroke="#2a2a2a" stroke-width="1.725" stroke-linejoin="round" letter-spacing="5.00">3500</text>
<text transform="translate(229.61,503.85) scale(0.1587,0.1311)" font-family="'Liberation Serif', serif" font-weight="normal" font-size="100.0" fill="#2a2a2a" stroke="#2a2a2a" stroke-width="1.725" stroke-linejoin="round" letter-spacing="5.00">3000</text>
<text transform="translate(313.34,503.85) scale(0.1584,0.1311)" font-family="'Liberation Serif', serif" font-weight="normal" font-size="100.0" fill="#2a2a2a" stroke="#2a2a2a" stroke-width="1.727" stroke-linejoin="round" letter-spacing="5.00">2500</text>
<text transform="translate(397.01,503.85) scale(0.1584,0.1311)" font-family="'Liberation Serif', serif" font-weight="normal" font-size="100.0" fill="#2a2a2a" stroke="#2a2a2a" stroke-width="1.727" stroke-linejoin="round" letter-spacing="5.00">2000</text>
<text transform="translate(479.95,503.85) scale(0.1618,0.1311)" font-family="'Liberation Serif', serif" font-weight="normal" font-size="100.0" fill="#2a2a2a" stroke="#2a2a2a" stroke-width="1.707" stroke-linejoin="round" letter-spacing="5.00">1500</text>
<text transform="translate(563.62,503.85) scale(0.1618,0.1311)" font-family="'Liberation Serif', serif" font-weight="normal" font-size="100.0" fill="#2a2a2a" stroke="#2a2a2a" stroke-width="1.707" stroke-linejoin="round" letter-spacing="5.00">1000</text>
<text transform="translate(652.03,503.85) scale(0.1613,0.1311)" font-family="'Liberation Serif', serif" font-weight="normal" font-size="100.0" fill="#2a2a2a" stroke="#2a2a2a" stroke-width="1.710" stroke-linejoin="round" letter-spacing="5.00">500</text>
<text transform="translate(303.15,531.74) scale(0.1732,0.1272)" font-family="'Liberation Sans', sans-serif" font-weight="normal" font-size="100.0" fill="#2e2e2e" stroke="#2e2e2e" stroke-width="2.996" stroke-linejoin="round">Wavenumber (cm</text>
<rect x="439.8" y="521.5" width="4.8" height="1.4" fill="#2e2e2e"/>
<text transform="translate(447.19,525.70) scale(0.0645,0.0974)" font-family="'Liberation Sans', sans-serif" font-weight="bold" font-size="100.0" fill="#2e2e2e">1</text>
<text transform="translate(453.33,531.34) scale(0.1565,0.1175)" font-family="'Liberation Sans', sans-serif" font-weight="normal" font-size="100.0" fill="#2e2e2e" stroke="#2e2e2e" stroke-width="3.284" stroke-linejoin="round">)</text>
</svg>
</body></html>
